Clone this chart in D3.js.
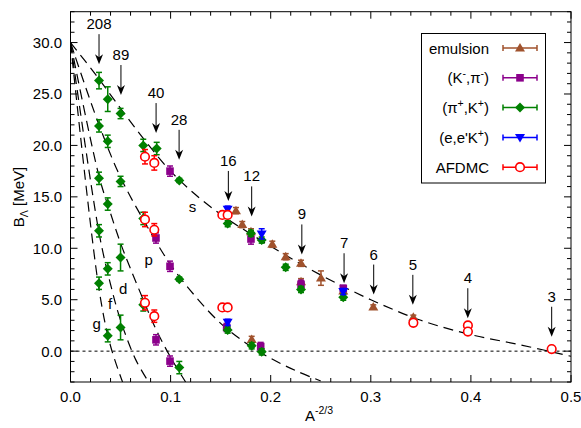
<!DOCTYPE html>
<html>
<head>
<meta charset="utf-8">
<script src="https://cdn.jsdelivr.net/npm/d3@7"></script>
<style>
  body { margin: 0; background: #fff; }
  text { font-family: "Liberation Sans", Arial, Helvetica, sans-serif; }
</style>
</head>
<body>
<div id="chart"></div>
<script>
// data: [A^-2/3, B_Lambda, error]
var emulsion = [[0.1653, 13.66, 0.3], [0.1716, 12.3, 0.3], [0.1803, 11.6, 0.3], [0.2016, 10.39, 0.3],
  [0.215, 9.18, 0.3], [0.2303, 8.54, 0.3], [0.2303, 6.75, 0.3], [0.2502, 7.1, 0.7],
  [0.2725, 5.85, 0.3], [0.3025, 4.3, 0.2], [0.3425, 3.3, 0.2], [0.181, 1.14, 0.3]];
var kpi = [[0.0994, 17.5, 0.5], [0.0854, 11.0, 0.5], [0.0994, 8.25, 0.5], [0.0854, 1.1, 0.5],
  [0.0994, -0.97, 0.5], [0.156, 2.3, 0.4], [0.1803, 10.9, 0.5], [0.190, 0.45, 0.4],
  [0.2303, 6.5, 0.4], [0.2725, 6.1, 0.3]];
var pik = [[0.0285, 26.3, 0.8], [0.0285, 21.9, 0.6], [0.0285, 16.8, 0.6], [0.0285, 11.7, 0.6], [0.0285, 6.6, 0.6],
  [0.0372, 24.5, 1.2], [0.0372, 20.4, 0.6], [0.0372, 14.3, 0.6], [0.0372, 8.0, 0.6], [0.0372, 1.5, 0.6],
  [0.0500, 23.1, 0.5], [0.0500, 16.5, 0.5], [0.0500, 9.1, 1.3], [0.0500, 2.3, 1.2],
  [0.0727, 20.0, 0.6], [0.0727, 12.9, 0.6], [0.0727, 4.5, 0.6], [0.0861, 19.7, 0.6],
  [0.1087, 16.6, 0.2], [0.1087, 7.0, 0.2], [0.1087, -1.6, 0.6],
  [0.157, 12.4, 0.3], [0.157, 2.05, 0.3], [0.1803, 11.45, 0.3], [0.181, 0.52, 0.3],
  [0.191, 10.8, 0.3], [0.191, -0.07, 0.3], [0.215, 8.15, 0.3], [0.2303, 6.0, 0.3], [0.2725, 5.25, 0.3]];
var eek = [[0.157, 13.8, 0.3], [0.191, 11.4, 0.5], [0.157, 2.8, 0.3], [0.2725, 5.8, 0.3]];
var afdmc = [[0.0744, 18.9, 0.7], [0.0837, 18.3, 0.7], [0.0744, 12.8, 0.7], [0.0837, 11.8, 0.6],
  [0.0744, 4.7, 0.7], [0.0837, 3.4, 0.6], [0.1517, 13.24, 0.1], [0.157, 13.24, 0.1],
  [0.1517, 4.25, 0.1], [0.157, 4.25, 0.1], [0.3425, 2.75, 0.1], [0.397, 2.5, 0.1],
  [0.397, 1.9, 0.1], [0.4807, 0.2, 0.1]];

// dashed model curves
var curveS = [[0, 30.0], [0.025, 26.9], [0.05, 23.6], [0.075, 20.4], [0.1, 17.5], [0.125, 15.2], [0.15, 13.3],
  [0.175, 11.7], [0.2, 10.2], [0.25, 7.4], [0.3, 5.0], [0.35, 3.0], [0.4, 1.6], [0.45, 0.6], [0.5, -0.5]];
var curveP = [[0, 30.0], [0.0285, 22.0], [0.05, 16.9], [0.075, 12.4], [0.1, 8.4], [0.125, 5.3], [0.15, 2.7],
  [0.175, 0.8], [0.2, -0.7], [0.225, -1.9], [0.25, -2.9]];
var curveD = [[0, 30.0], [0.0285, 17.0], [0.04, 13.4], [0.05, 10.5], [0.06, 8.0], [0.0727, 5.0], [0.085, 2.2],
  [0.1, -0.6], [0.115, -3.0]];
var curveF = [[0, 30.0], [0.0285, 11.5], [0.04, 6.5], [0.05, 3.0], [0.065, -0.8], [0.078, -3.0]];
var curveG = [[0, 30.0], [0.0285, 6.0], [0.04, 0.5], [0.052, -3.0]];

var waveNames = ["s", "p", "d", "f", "g"];
var waveLabelPos = [[0.122, 14.0], [0.078, 8.9], [0.0527, 6.0], [0.0395, 4.6], [0.0262, 2.6]];

var arrowLabels = ["208", "89", "40", "28", "16", "12", "9", "7", "6", "5", "4", "3"];
var arrowX = [0.0285, 0.0504, 0.0855, 0.1085, 0.1577, 0.1810, 0.2311, 0.2733, 0.3029, 0.3420, 0.3969, 0.4807];
var arrowTip = [27.9, 24.9, 21.2, 18.6, 14.6, 13.1, 9.4, 6.6, 5.5, 4.5, 3.2, 1.4];

var xTicks = [0, 0.1, 0.2, 0.3, 0.4, 0.5];
var yTicks = [0, 5, 10, 15, 20, 25, 30];

var W = 581, H = 428;
var pL = 70.5, pR = 571, pT = 11.7, pB = 382;

var svg = d3.select("#chart").append("svg")
  .attr("width", W).attr("height", H);

var x = d3.scaleLinear().domain([0, 0.5]).range([pL, pR]);
var y = d3.scaleLinear().domain([-3, 33]).range([pB, pT]);

// ticks (inward, mirrored)
var ax = svg.append("g").attr("stroke", "#000").attr("stroke-width", 1);
d3.range(0, 0.5001, 0.02).forEach(function (t) {
  var major = Math.abs(t * 10 - Math.round(t * 10)) < 1e-6;
  var len = major ? 7 : 4;
  ax.append("line").attr("x1", x(t)).attr("x2", x(t)).attr("y1", pB).attr("y2", pB - len);
  ax.append("line").attr("x1", x(t)).attr("x2", x(t)).attr("y1", pT).attr("y2", pT + len);
});
d3.range(-3, 33.001, 1).forEach(function (t) {
  var major = t % 5 === 0;
  var len = major ? 7 : 4;
  ax.append("line").attr("x1", pL).attr("x2", pL + len).attr("y1", y(t)).attr("y2", y(t));
  ax.append("line").attr("x1", pR).attr("x2", pR - len).attr("y1", y(t)).attr("y2", y(t));
});

svg.append("g").selectAll("text").data(xTicks).enter().append("text")
  .attr("x", function (d) { return x(d); }).attr("y", 402)
  .attr("text-anchor", "middle").attr("font-size", 15)
  .text(function (d) { return d.toFixed(1); });
svg.append("g").selectAll("text").data(yTicks).enter().append("text")
  .attr("x", 62).attr("y", function (d) { return y(d) + 5.5; })
  .attr("text-anchor", "end").attr("font-size", 15)
  .text(function (d) { return d.toFixed(1); });

// axis titles
var xt = svg.append("text").attr("x", 305).attr("y", 421).attr("font-size", 15);
xt.append("tspan").text("A");
xt.append("tspan").attr("dy", -7).attr("font-size", 10.5).text("-2/3");

var yt = svg.append("text").attr("transform", "translate(24,197) rotate(-90)")
  .attr("text-anchor", "middle").attr("font-size", 15);
yt.append("tspan").text("B");
yt.append("tspan").attr("dy", 4).attr("font-size", 10.5).text("\u039B");
yt.append("tspan").attr("dy", -4).text(" [MeV]");

var plot = svg.append("g");
plot.append("clipPath").attr("id", "clip").append("rect")
  .attr("x", pL).attr("y", pT).attr("width", pR - pL).attr("height", pB - pT);

// zero line
plot.append("line").attr("x1", pL).attr("x2", pR).attr("y1", y(0)).attr("y2", y(0))
  .attr("stroke", "#000").attr("stroke-width", 1).attr("stroke-dasharray", "3,3");

// model curves
var line = d3.line().x(function (d) { return x(d[0]); }).y(function (d) { return y(d[1]); })
  .curve(d3.curveCatmullRom);
[curveS, curveP, curveD, curveF, curveG].forEach(function (c) {
  plot.append("path").datum(c).attr("d", line).attr("clip-path", "url(#clip)")
    .attr("fill", "none").attr("stroke", "#000").attr("stroke-width", 1.2)
    .attr("stroke-dasharray", "10,6");
});

plot.selectAll(".wave").data(waveNames).enter().append("text")
  .attr("x", function (d, i) { return x(waveLabelPos[i][0]); })
  .attr("y", function (d, i) { return y(waveLabelPos[i][1]) + 5; })
  .attr("text-anchor", "middle").attr("font-size", 15).text(function (d) { return d; });

// arrows
arrowLabels.forEach(function (lab, i) {
  var ax0 = x(arrowX[i]), ty = y(arrowTip[i]);
  plot.append("line").attr("x1", ax0).attr("x2", ax0).attr("y1", ty - 30).attr("y2", ty - 4)
    .attr("stroke", "#000").attr("stroke-width", 1);
  plot.append("path")
    .attr("d", "M" + ax0 + "," + ty + "l-4,-10l4,3l4,-3z")
    .attr("fill", "#000");
  plot.append("text").attr("x", ax0).attr("y", ty - 35)
    .attr("text-anchor", "middle").attr("font-size", 15).text(lab);
});

// markers
function marker(g, type, color, cx, cy) {
  if (type === "tri") {
    g.append("path").attr("d", "M" + cx + "," + (cy - 5) + "l5,8.5l-10,0z").attr("fill", color);
  } else if (type === "sq") {
    g.append("rect").attr("x", cx - 3.8).attr("y", cy - 3.8).attr("width", 7.6).attr("height", 7.6).attr("fill", color);
  } else if (type === "dia") {
    g.append("path").attr("d", "M" + cx + "," + (cy - 5) + "l5,5l-5,5l-5,-5z").attr("fill", color);
  } else if (type === "itri") {
    g.append("path").attr("d", "M" + cx + "," + (cy + 5) + "l5,-8.5l-10,0z").attr("fill", color);
  } else {
    g.append("circle").attr("cx", cx).attr("cy", cy).attr("r", 4.3)
      .attr("fill", "#fff").attr("stroke", color).attr("stroke-width", 1.6);
  }
}

var series = [
  { name: "emulsion", data: emulsion, color: "#a0522d", type: "tri" },
  { name: "kpi", data: kpi, color: "#8b008b", type: "sq" },
  { name: "pik", data: pik, color: "#008000", type: "dia" },
  { name: "eek", data: eek, color: "#0000ff", type: "itri" },
  { name: "afdmc", data: afdmc, color: "#ff0000", type: "circ" }
];

series.forEach(function (s) {
  var g = plot.append("g");
  s.data.forEach(function (d) {
    var cx = x(d[0]), y1 = y(d[1] + d[2]), y2 = y(d[1] - d[2]);
    g.append("line").attr("x1", cx).attr("x2", cx).attr("y1", y1).attr("y2", y2)
      .attr("stroke", s.color).attr("stroke-width", 1.5);
    g.append("line").attr("x1", cx - 3).attr("x2", cx + 3).attr("y1", y1).attr("y2", y1)
      .attr("stroke", s.color).attr("stroke-width", 1.5);
    g.append("line").attr("x1", cx - 3).attr("x2", cx + 3).attr("y1", y2).attr("y2", y2)
      .attr("stroke", s.color).attr("stroke-width", 1.5);
    marker(g, s.type, s.color, cx, y(d[1]));
  });
});

// frame
svg.append("rect").attr("x", pL).attr("y", pT).attr("width", pR - pL).attr("height", pB - pT)
  .attr("fill", "none").attr("stroke", "#000").attr("stroke-width", 1);

// legend
var lg = svg.append("g");
lg.append("rect").attr("x", 421.5).attr("y", 33.5).attr("width", 124).attr("height", 149.5)
  .attr("fill", "#fff").attr("stroke", "#000").attr("stroke-width", 1);
var legendText = [
  [["emulsion", 0]],
  [["(K", 0], ["-", 1], [",\u03C0", 0], ["-", 1], [")", 0]],
  [["(\u03C0", 0], ["+", 1], [",K", 0], ["+", 1], [")", 0]],
  [["(e,e'K", 0], ["+", 1], [")", 0]],
  [["AFDMC", 0]]
];
series.forEach(function (s, i) {
  var ly = 48 + i * 29.8;
  var t = lg.append("text").attr("x", 489).attr("y", ly + 5.5).attr("text-anchor", "end").attr("font-size", 15);
  var prevSup = 0;
  legendText[i].forEach(function (p) {
    var dy = p[1] === prevSup ? 0 : (p[1] ? -6 : 6);
    t.append("tspan").attr("dy", dy).attr("font-size", p[1] ? 10.5 : 15).text(p[0]);
    prevSup = p[1];
  });
  lg.append("line").attr("x1", 503).attr("x2", 537).attr("y1", ly).attr("y2", ly)
    .attr("stroke", s.color).attr("stroke-width", 1.5);
  lg.append("line").attr("x1", 503).attr("x2", 503).attr("y1", ly - 3).attr("y2", ly + 3)
    .attr("stroke", s.color).attr("stroke-width", 1.5);
  lg.append("line").attr("x1", 537).attr("x2", 537).attr("y1", ly - 3).attr("y2", ly + 3)
    .attr("stroke", s.color).attr("stroke-width", 1.5);
  marker(lg, s.type, s.color, 520, ly);
});
</script>
</body>
</html>
